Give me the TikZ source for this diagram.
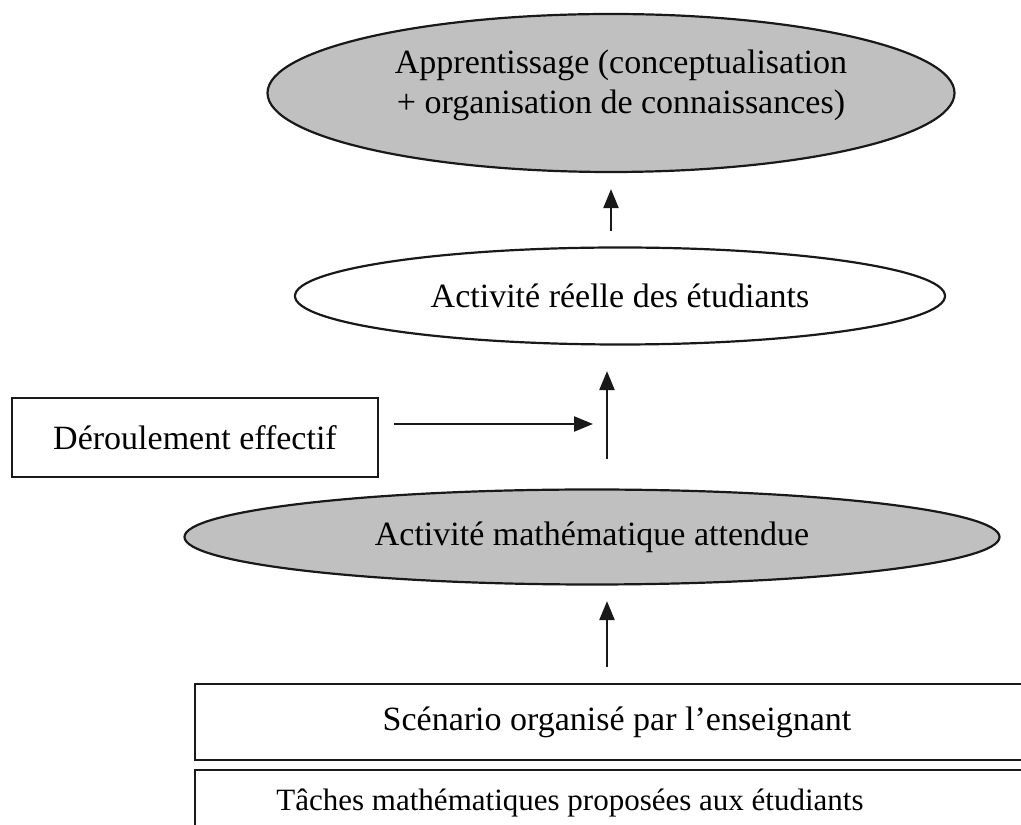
\documentclass[tikz,border=0pt]{standalone}
\usepackage{fontspec}
\setmainfont{Liberation Serif}
\usetikzlibrary{shapes.geometric,arrows.meta}
\definecolor{ellgray}{RGB}{192,192,192}
\definecolor{inkc}{RGB}{25,25,25}
\tikzset{
  ell/.style={ellipse, draw=inkc, line width=2.2pt, inner sep=0pt, align=center,
    font=\fontsize{34}{40}\selectfont},
  boxn/.style={rectangle, draw=inkc, line width=2.2pt, inner sep=0pt,
    font=\fontsize{34}{40}\selectfont},
  txt/.style={inner sep=0pt, align=center, font=\fontsize{34}{40}\selectfont},
  arr/.style={-{Triangle[length=19pt,width=15pt]}, line width=2.4pt, draw=inkc},
}
\begin{document}
\begin{tikzpicture}[x=1pt,y=1pt]
\useasboundingbox (0,0) rectangle (1021,825);
\clip (0,0) rectangle (1021,825);
\fill[white] (0,0) rectangle (1021,825);

\node[ell, fill=ellgray, minimum width=687, minimum height=158] (learn) at (611,732) {};
\node[txt] (learntxt) at (621,740)
  {Apprentissage (conceptualisation\\+ organisation de connaissances)};
\node[ell, fill=white, minimum width=650, minimum height=97] (real) at (620,529)
  {Activité réelle des étudiants};
\node[ell, fill=ellgray, minimum width=815, minimum height=95] (expect) at (592,288)
  {Activité mathématique attendue};

\node[boxn, minimum width=366, minimum height=79] (der) at (195,387.5)
  {Déroulement effectif};
\node[boxn, minimum width=844, minimum height=76] (scen) at (617,103)
  {Scénario organisé par l’enseignant};
\node[boxn, minimum width=865, minimum height=80] (tach) at (627.5,15) {};
\node[txt, font=\fontsize{31}{36}\selectfont] (tachtxt) at (570,22)
  {Tâches mathématiques proposées aux étudiants};

\coordinate (axis) at (607,401);

\draw[arr, shorten <=15.5pt, shorten >=16pt] (learn.south |- real.north) -- (learn.south);
\draw[arr, shorten <=29.5pt, shorten >=25.5pt] (axis |- expect.north) -- (axis |- real.south);
\draw[arr, shorten <=15pt, shorten >=14pt] (der.east |- axis) -- (axis);
\draw[arr, shorten <=16pt, shorten >=15.5pt] (axis |- scen.north) -- (axis |- expect.south);
\end{tikzpicture}
\end{document}
